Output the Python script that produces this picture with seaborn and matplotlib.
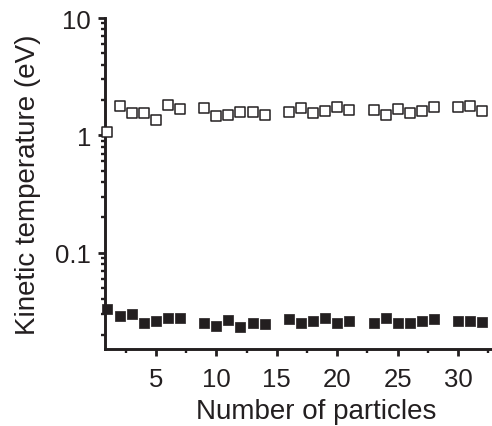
import matplotlib
matplotlib.use("Agg")
import matplotlib.pyplot as plt
from matplotlib.ticker import FixedLocator, FixedFormatter, MultipleLocator, LogLocator, NullFormatter
import numpy as np
import pandas as pd
import seaborn as sns

# Number of particles and the kinetic temperatures (eV) measured for each
particles = [1, 2, 3, 4, 5, 6, 7, 9, 10, 11, 12, 13, 14, 16, 17, 18, 19, 20, 21,
             23, 24, 25, 26, 27, 28, 30, 31, 32]
temp_open = [1.06, 1.77, 1.55, 1.56, 1.34, 1.80, 1.67, 1.71, 1.47, 1.48, 1.58, 1.59,
             1.48, 1.58, 1.71, 1.54, 1.60, 1.73, 1.65, 1.64, 1.48, 1.69, 1.54, 1.60,
             1.75, 1.73, 1.78, 1.60]
temp_filled = [0.0332, 0.0291, 0.0301, 0.0254, 0.0264, 0.0275, 0.0278, 0.0252, 0.0239,
               0.0269, 0.0232, 0.0250, 0.0246, 0.0273, 0.0250, 0.0264, 0.0278, 0.0254,
               0.0261, 0.0252, 0.0278, 0.0254, 0.0254, 0.0261, 0.0273, 0.0261, 0.0261,
               0.0257]
y_ticks = [0.1, 1, 10]
y_tick_labels = ["0.1", "1", "10"]
x_ticks = [5, 10, 15, 20, 25, 30]

df = pd.DataFrame({"n": particles, "open": temp_open, "filled": temp_filled})

sns.set_style("ticks")
plt.rcParams["font.family"] = ["Liberation Sans", "DejaVu Sans"]
ink = "#231f20"

fig = plt.figure(figsize=(4.92, 4.27), dpi=100)
# the plotting area runs past the right edge of the canvas
ax = fig.add_axes([0.2134, 0.1803, 0.858, 0.7752])

sns.scatterplot(data=df, x="n", y="open", marker="s", s=44, facecolor="white",
                edgecolor=ink, linewidth=1.1, ax=ax, zorder=3, clip_on=False)
sns.scatterplot(data=df, x="n", y="filled", marker="s", s=50, color=ink,
                edgecolor=ink, linewidth=0.5, ax=ax, zorder=3, clip_on=False)

ax.set_yscale("log")
ax.set_ylim(0.0151, 10)
ax.set_xlim(0.8, 35.7)

ax.yaxis.set_major_locator(FixedLocator(y_ticks))
ax.yaxis.set_major_formatter(FixedFormatter(y_tick_labels))
ax.yaxis.set_minor_locator(LogLocator(base=10, subs=np.arange(2, 10)))
ax.yaxis.set_minor_formatter(NullFormatter())
ax.xaxis.set_major_locator(FixedLocator(x_ticks))
ax.xaxis.set_minor_locator(FixedLocator([2.5, 7.5, 12.5, 17.5, 22.5, 27.5, 32.5]))

for side in ["top", "right"]:
    ax.spines[side].set_visible(False)
for side in ["left", "bottom"]:
    ax.spines[side].set_linewidth(2.1)
    ax.spines[side].set_color(ink)

ax.tick_params(which="major", direction="out", length=5, width=2.0, color=ink,
               labelsize=18.5, labelcolor=ink)
ax.tick_params(axis="y", which="major", pad=5)
ax.tick_params(axis="x", which="major", pad=8)
ax.tick_params(which="minor", direction="out", length=3, width=1.7, color=ink)

ax.set_xlabel("Number of particles", fontsize=20, color=ink, labelpad=5)
ax.set_ylabel("Kinetic temperature (eV)", fontsize=20, color=ink, labelpad=10)

fig.savefig("out.png", dpi=100)
